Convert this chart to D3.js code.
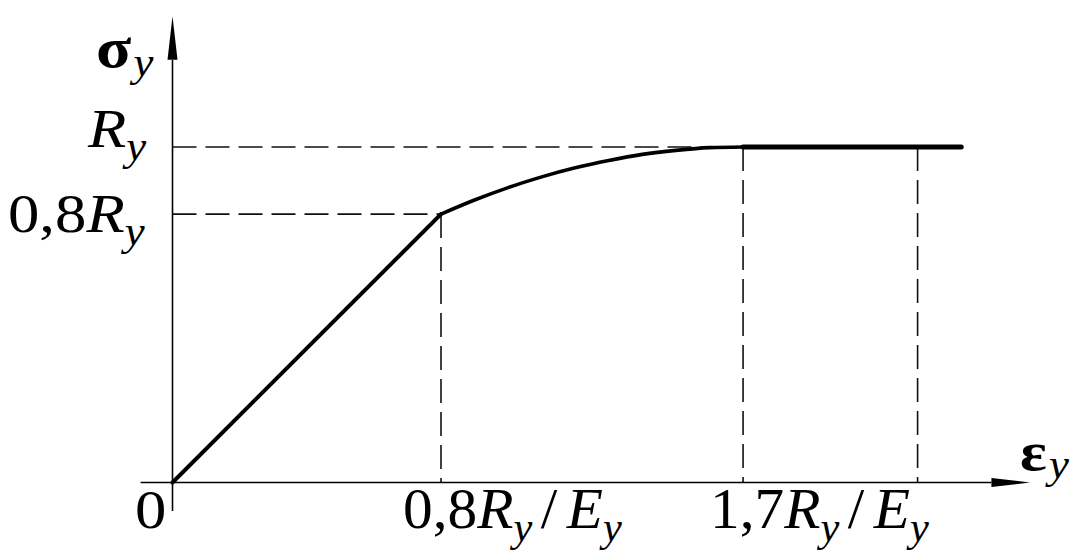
<!DOCTYPE html>
<html><head><meta charset="utf-8">
<script src="https://cdn.jsdelivr.net/npm/d3@7"></script>
<style>html,body{margin:0;padding:0;background:#fff;} svg{display:block}</style>
</head><body><svg id="c" width="1075" height="557"></svg>
<script>
// strain in units of Ry/Ey, stress in units of Ry
const elasticStrain = [0, 0.8];
const elasticStress = [0, 0.8];
const hardeningStrain = [0.8, 0.9, 1.0, 1.1, 1.2, 1.3, 1.4, 1.5, 1.6, 1.7];
const hardeningStress = [0.8, 0.842, 0.879, 0.911, 0.938, 0.960, 0.978, 0.990, 0.998, 1.0];
const plateauStrain = [1.7, 2.35];
const plateauStress = [1.0, 1.0];
const vGuideStrain = [0.8, 1.7, 2.22];
const vGuideTop = [0.8, 1.0, 1.0];
const hGuideStress = [0.8, 1.0];
const hGuideEnd = [0.8, 1.7];
const xTickValues = [0.8, 1.7];
const xTickLabels = ["0,8", "1,7"];
const yTickValues = [1.0, 0.8];
const yTickLabels = ["", "0,8"];

const svg = d3.select("#c");
svg.append("rect").attr("width",1075).attr("height",557).attr("fill","#fff");

const x = d3.scaleLinear().domain([0, 0.8]).range([172.5, 441]);
const y = d3.scaleLinear().domain([0, 1]).range([482.5, 147]);

const FONT = "'Liberation Serif','Times New Roman',serif";

// dashed guides
const guides = svg.append("g").attr("stroke","#111").attr("stroke-width",1.6).attr("stroke-dasharray","24,9").attr("fill","none");
hGuideStress.forEach((s,i)=>{
  guides.append("line").attr("x1",x(0)).attr("x2",x(hGuideEnd[i])).attr("y1",y(s)).attr("y2",y(s));
});
vGuideStrain.forEach((e,i)=>{
  guides.append("line").attr("x1",x(e)).attr("x2",x(e)).attr("y1",y(vGuideTop[i])).attr("y2",y(0));
});

// axes
const ax = svg.append("g");
ax.append("line").attr("x1",x(-0.095)).attr("x2",x(2.44)).attr("y1",y(0)).attr("y2",y(0)).attr("stroke","#000").attr("stroke-width",1.6);
ax.append("line").attr("x1",x(0)).attr("x2",x(0)).attr("y1",y(-0.085)).attr("y2",y(1.26)).attr("stroke","#000").attr("stroke-width",1.6);
// arrow heads
const xe = x(2.555), xb = x(2.44);
ax.append("path").attr("d",`M${xb},${y(0)-4.5}L${xe},${y(0)}L${xb},${y(0)+4.5}Z`).attr("fill","#000");
const yt = y(1.39), yb = y(1.26);
ax.append("path").attr("d",`M${x(0)-5},${yb}L${x(0)},${yt}L${x(0)+5},${yb}Z`).attr("fill","#000");

// curve
const line = d3.line().x(d=>x(d[0])).y(d=>y(d[1]));
svg.append("path").datum(elasticStrain.map((e,i)=>[e,elasticStress[i]]))
  .attr("d",line).attr("fill","none").attr("stroke","#000").attr("stroke-width",4).attr("stroke-linecap","round");
svg.append("path").datum(hardeningStrain.map((e,i)=>[e,hardeningStress[i]]))
  .attr("d",d3.line().x(d=>x(d[0])).y(d=>y(d[1])).curve(d3.curveMonotoneX)).attr("fill","none").attr("stroke","#000").attr("stroke-width",3.6).attr("stroke-linecap","round");
svg.append("path").datum(plateauStrain.map((e,i)=>[e,plateauStress[i]]))
  .attr("d",line).attr("fill","none").attr("stroke","#000").attr("stroke-width",5).attr("stroke-linecap","round");

// rich text labels
function rich(px, py, parts, size, weight, sx){
  const g = svg.append("g").attr("transform",`translate(${px},${py}) scale(${sx||1.12},1)`);
  const t = g.append("text").attr("x",0).attr("y",0).attr("font-family",FONT).attr("font-size",size).attr("fill","#000");
  if (weight) t.attr("font-weight",weight);
  parts.forEach(p=>{
    const ts = t.append("tspan").text(p.t);
    if (p.it) ts.attr("font-style","italic");
    if (p.sub) { ts.attr("font-size",p.fs||42).attr("y",p.sh||9).attr("font-weight","normal"); }
    else ts.attr("y",0);
    if (p.dx) ts.attr("dx",p.dx);
  });
  return t;
}
const SZ = 56;
const sub = {t:"y", it:true, sub:true, fs:40, sh:13};
function withRE(num){
  return [{t:num},{t:"R",it:true},Object.assign({},sub),{t:"/",dx:8},{t:"E",it:true,dx:9},Object.assign({},sub)];
}

// axis titles
rich(96, 67, [{t:"σ"}, Object.assign({},sub,{sh:9,dx:2})], 58, "bold");
rich(1020, 470, [{t:"ε"}, Object.assign({},sub,{sh:8,dx:2})], 56, "bold");

// y tick labels
yTickValues.forEach((v,i)=>{
  const lab = yTickLabels[i];
  const px = lab ? 8 : 88;
  rich(px, y(v)+ (lab?18:0), [{t:lab},{t:"R",it:true},Object.assign({},sub)], SZ);
});
// origin
rich(135, 528, [{t:"0"}], SZ);
// x tick labels
const xLabelLeft = [403, 710];
xTickValues.forEach((v,i)=>{
  rich(xLabelLeft[i], 528, withRE(xTickLabels[i]), SZ, null, 1.06);
});
</script></body></html>
